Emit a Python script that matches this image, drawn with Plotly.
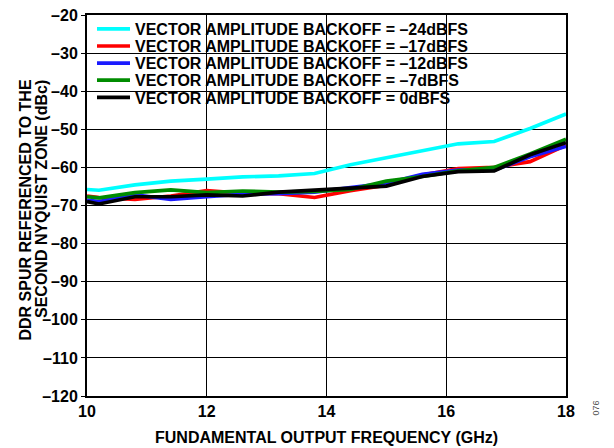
import plotly.graph_objects as go

freq_ghz = [10.0, 10.2, 10.8, 11.4, 12.0, 12.6, 13.2, 13.8, 14.4, 15.0, 15.6, 16.2, 16.8, 17.4, 18.0]

backoff_m24 = [-65.8, -66.0, -64.6, -63.6, -63.1, -62.5, -62.2, -61.6, -59.3, -57.5, -55.7, -53.8, -53.2, -49.8, -46.0]
backoff_m17 = [-67.5, -67.9, -68.4, -67.5, -66.1, -66.8, -66.9, -67.9, -66.1, -64.7, -62.0, -60.3, -60.0, -58.5, -54.2]
backoff_m12 = [-68.6, -69.0, -67.2, -68.4, -67.7, -67.0, -66.9, -66.5, -65.3, -64.2, -61.8, -60.7, -60.7, -57.2, -54.5]
backoff_m7 = [-67.7, -68.0, -66.6, -65.9, -66.6, -66.2, -66.5, -66.3, -65.8, -63.6, -62.4, -60.9, -60.0, -56.5, -52.6]
backoff_0 = [-69.0, -69.6, -67.7, -67.7, -67.2, -67.5, -66.5, -65.9, -65.5, -64.9, -62.4, -61.1, -60.9, -56.7, -53.5]

series = [
    ("VECTOR AMPLITUDE BACKOFF = –24dBFS", backoff_m24, "#00ffff"),
    ("VECTOR AMPLITUDE BACKOFF = –17dBFS", backoff_m17, "#ff0000"),
    ("VECTOR AMPLITUDE BACKOFF = –12dBFS", backoff_m12, "#1a1aff"),
    ("VECTOR AMPLITUDE BACKOFF = –7dBFS", backoff_m7, "#008c00"),
    ("VECTOR AMPLITUDE BACKOFF = 0dBFS", backoff_0, "#000000"),
]

x_ticks = [10, 12, 14, 16, 18]
y_ticks = list(range(-120, -10, 10))
y_labels = [str(v).replace("-", "–") for v in y_ticks]

font = "Liberation Sans, Arial, sans-serif"
fs = 16

# page body adds 8px around the figure, so size/margins are trimmed by that
fig = go.Figure()
legend_rows = {}
for i, (name, vals, color) in enumerate(series):
    key = "legend" if i == 0 else f"legend{i + 1}"
    fig.add_trace(go.Scatter(x=freq_ghz, y=vals, name=name, mode="lines",
                             line=dict(color=color, width=3.7), legend=key))
    # one legend per row so rows can sit closer than plotly's default spacing
    legend_rows[key] = dict(
        x=0.0, y=(381 - 14 - 17.1 * i) / 381, xanchor="left", yanchor="middle",
        bgcolor="rgba(0,0,0,0)", borderwidth=5, bordercolor="rgba(0,0,0,0)",
        font=dict(family=font, size=fs, color="black", weight="bold"),
        itemwidth=33,
    )

fig.update_layout(
    width=606, height=440,
    margin=dict(l=79, r=48, t=7, b=52, autoexpand=False),
    paper_bgcolor="white", plot_bgcolor="white",
    font=dict(family=font, size=fs, color="black"),
    showlegend=True,
    **legend_rows,
)
# white legend box hiding the grid behind it
fig.add_shape(type="rect", xref="paper", yref="paper", x0=0, x1=0.825, y0=0.745, y1=1,
              fillcolor="white", line=dict(width=0), layer="between")

fig.update_xaxes(
    range=[10, 18], tickvals=x_ticks,
    showgrid=True, gridcolor="black", gridwidth=1,
    showline=True, linecolor="black", linewidth=2, mirror=True,
    ticks="", zeroline=False, automargin=False, ticklabeloverflow="allow",
    tickfont=dict(family=font, size=fs, weight="bold"),
)
fig.update_yaxes(
    range=[-120, -20], tickvals=y_ticks, ticktext=y_labels,
    showgrid=True, gridcolor="black", gridwidth=1,
    showline=True, linecolor="black", linewidth=2, mirror=True,
    ticks="outside", ticklen=4, tickcolor="black", zeroline=False, automargin=False,
    ticklabeloverflow="allow",
    tickfont=dict(family=font, size=fs, weight="bold"),
)
fig.add_annotation(text="<b>FUNDAMENTAL OUTPUT FREQUENCY (GHz)</b>", x=0.5, y=-41 / 381,
                   xref="paper", yref="paper", showarrow=False, yanchor="middle",
                   font=dict(family=font, size=fs))
fig.add_annotation(text="<b>DDR SPUR REFERENCED TO THE</b>", x=-62 / 479, y=318 / 381,
                   xref="paper", yref="paper", showarrow=False, textangle=-90,
                   xanchor="center", yanchor="top", font=dict(family=font, size=fs))
fig.add_annotation(text="<b>SECOND NYQUIST ZONE (dBc)</b>", x=-46 / 479, y=318 / 381,
                   xref="paper", yref="paper", showarrow=False, textangle=-90,
                   xanchor="center", yanchor="top", font=dict(family=font, size=fs))
fig.add_annotation(text="076", x=515 / 479, y=-22 / 381, xref="paper", yref="paper",
                   showarrow=False, textangle=-90,
                   font=dict(family=font, size=9, color="#555555"))

fig.write_html("out.html")
